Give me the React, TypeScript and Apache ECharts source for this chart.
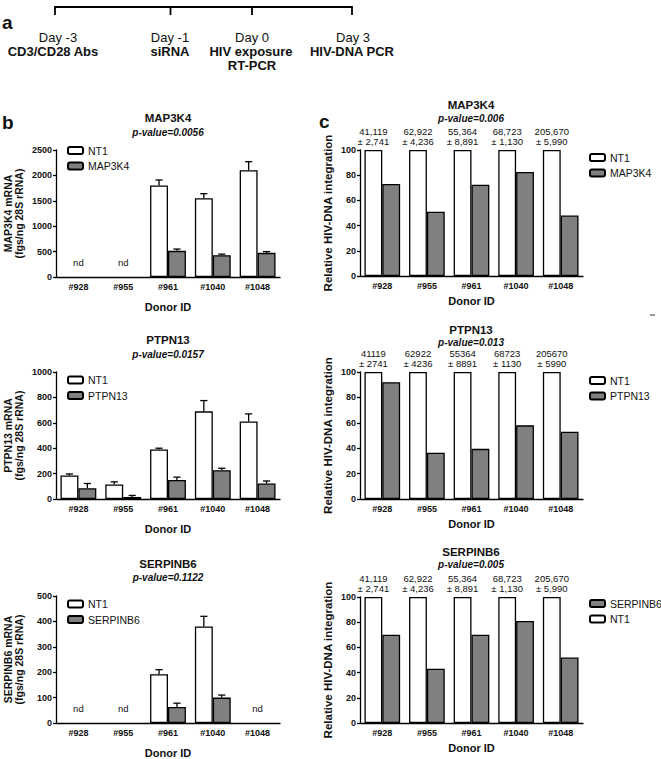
import React, { useEffect, useRef } from "react";
import * as echarts from "echarts";

const donors = ["#928", "#955", "#961", "#1040", "#1048"];

// Panel b: mRNA levels (fgs/ng 28S rRNA); null = not detected (nd)
const mapNT1 = [null, null, 1800, 1550, 2100];
const mapNT1Err = [null, null, 1910, 1640, 2270];
const mapKD = [null, null, 515, 430, 475];
const mapKDErr = [null, null, 550, 450, 500];

const ptpNT1 = [185, 115, 390, 690, 610];
const ptpNT1Err = [197, 135, 400, 775, 670];
const ptpKD = [85, 16, 150, 226, 122];
const ptpKDErr = [122, 28, 172, 242, 142];

const serNT1 = [null, null, 192, 380, null];
const serNT1Err = [null, null, 210, 420, null];
const serKD = [null, null, 63, 100, null];
const serKDErr = [null, null, 78, 110, null];

// Panel c: relative HIV-DNA integration (%)
const relNT1 = [100, 100, 100, 100, 100];
const relMap = [73, 51, 72.5, 82.5, 48];
const relPtp = [92, 36.5, 39.5, 58, 53];
const relSer = [70, 43, 70, 81, 52];

const copiesComma = ["41,119", "62,922", "55,364", "68,723", "205,670"];
const sdComma = ["2,741", "4,236", "8,891", "1,130", "5,990"];
const copiesPlain = ["41119", "62922", "55364", "68723", "205670"];
const sdPlain = ["2741", "4236", "8891", "1130", "5990"];

const FONT = "'Liberation Sans', Arial, Helvetica, sans-serif";
const GREY = "#808080";
const INK = "#111";

function buildOption() {
  const grids: any[] = [];
  const xAxes: any[] = [];
  const yAxes: any[] = [];
  const series: any[] = [];
  const legends: any[] = [];
  const graphics: any[] = [];

  const addAxes = (gi: number, grid: any, yMax: number, yInt: number, yName: string, nameGap: number, xNameGap: number, nameSize: number) => {
    grids.push(grid);
    xAxes.push({
      type: "category",
      gridIndex: gi,
      data: donors,
      name: "Donor ID",
      nameLocation: "middle",
      nameGap: xNameGap,
      nameTextStyle: { fontFamily: FONT, fontSize: 11, fontWeight: "bold", color: INK },
      axisLine: { lineStyle: { color: "#000", width: 1.3 } },
      axisTick: { show: false },
      axisLabel: { fontFamily: FONT, fontSize: 9, fontWeight: "bold", color: INK, margin: 5 },
      splitLine: { show: false },
    });
    yAxes.push({
      type: "value",
      gridIndex: gi,
      min: 0,
      max: yMax,
      interval: yInt,
      name: yName,
      nameLocation: "middle",
      nameGap: nameGap,
      nameTextStyle: { fontFamily: FONT, fontSize: nameSize, fontWeight: "bold", color: INK, lineHeight: 11.5 },
      axisLine: { show: true, lineStyle: { color: "#000", width: 1.3 } },
      axisTick: { show: true, length: 3, lineStyle: { color: "#000", width: 1.3 } },
      axisLabel: {
        fontFamily: FONT,
        fontSize: 9,
        fontWeight: "bold",
        color: INK,
        margin: 4,
        formatter: (v: number) => String(v),
      },
      splitLine: { show: false },
    });
  };

  const barBase = (gi: number) => ({
    type: "bar",
    xAxisIndex: gi,
    yAxisIndex: gi,
    barGap: "0%",
    barCategoryGap: "20%",
  });

  const errSeries = (gi: number, vals: any[], errs: any[], side: number) => ({
    type: "custom",
    name: "err" + gi + side,
    xAxisIndex: gi,
    yAxisIndex: gi,
    z: 5,
    encode: { x: 0, y: [1, 2] },
    data: vals
      .map((v, i) => (v == null ? null : [i, v, errs[i], side]))
      .filter((d) => d !== null),
    renderItem: (params: any, api: any) => {
      const cat = api.value(0);
      const v = api.value(1);
      const e = api.value(2);
      const s = api.value(3);
      const base = api.coord([cat, v]);
      const top = api.coord([cat, e]);
      const w = api.size([1, 0])[0];
      const x = base[0] + s * w * 0.2;
      const cap = w * 0.08;
      const st = { stroke: "#000", lineWidth: 1.3 };
      return {
        type: "group",
        children: [
          { type: "line", shape: { x1: x, y1: base[1], x2: x, y2: top[1] }, style: st },
          { type: "line", shape: { x1: x - cap, y1: top[1], x2: x + cap, y2: top[1] }, style: st },
        ],
      };
    },
  });

  const ndSeries = (gi: number, vals: any[]) => ({
    type: "custom",
    name: "nd" + gi,
    xAxisIndex: gi,
    yAxisIndex: gi,
    data: vals.map((v, i) => (v == null ? [i, 0] : null)).filter((d) => d !== null),
    renderItem: (params: any, api: any) => {
      const p = api.coord([api.value(0), 0]);
      return {
        type: "text",
        x: p[0],
        y: p[1] - 15,
        style: { text: "nd", fill: INK, fontFamily: FONT, fontSize: 9.5, align: "center", verticalAlign: "middle" },
      };
    },
  });

  const titleText = (cx: number, y1: number, y2: number, title: string, pv: string) => {
    graphics.push({
      type: "text",
      x: cx,
      y: y1,
      style: { text: title, fill: INK, fontFamily: FONT, fontSize: 11.5, fontWeight: "bold", align: "center", verticalAlign: "middle" },
    });
    graphics.push({
      type: "text",
      x: cx,
      y: y2,
      style: { text: pv, fill: INK, fontFamily: FONT, fontSize: 10, fontWeight: "bold", fontStyle: "italic", align: "center", verticalAlign: "middle" },
    });
  };

  const legend = (left: number, firstCenter: number, names: string[]) => {
    legends.push({
      orient: "vertical",
      left: left,
      top: firstCenter - 6,
      padding: 0,
      itemWidth: 15,
      itemHeight: 7,
      itemGap: 3.5,
      icon: "roundRect",
      selectedMode: false,
      data: names,
      textStyle: { fontFamily: FONT, fontSize: 10.5, color: INK, lineHeight: 12, padding: [0, 0, 0, 0] },
    });
  };

  // ---- Panel b ----
  const bPanels = [
    { top: 150, max: 2500, int: 500, gene: "MAP3K4", nt: mapNT1, ntE: mapNT1Err, kd: mapKD, kdE: mapKDErr, t: 118, p: 132, pv: "p-value=0.0056", leg: 150.5 },
    { top: 372, max: 1000, int: 200, gene: "PTPN13", nt: ptpNT1, ntE: ptpNT1Err, kd: ptpKD, kdE: ptpKDErr, t: 340, p: 354, pv: "p-value=0.0157", leg: 380 },
    { top: 596, max: 500, int: 100, gene: "SERPINB6", nt: serNT1, ntE: serNT1Err, kd: serKD, kdE: serKDErr, t: 564, p: 577, pv: "p-value=0.1122", leg: 604 },
  ];
  bPanels.forEach((bp) => {
    const gi = grids.length;
    addAxes(gi, { left: 56, width: 224, top: bp.top, height: 127 }, bp.max, bp.int, bp.gene + " mRNA\n(fgs/ng 28S rRNA)", 31, 24, 10.5);
    series.push({
      ...barBase(gi),
      name: "NT1",
      data: bp.nt,
      itemStyle: { color: "#fff", borderColor: "#000", borderWidth: 1.3 },
    });
    series.push({
      ...barBase(gi),
      name: bp.gene,
      data: bp.kd,
      itemStyle: { color: GREY, borderColor: "#000", borderWidth: 1.3 },
    });
    series.push(errSeries(gi, bp.nt, bp.ntE, -1));
    series.push(errSeries(gi, bp.kd, bp.kdE, 1));
    series.push(ndSeries(gi, bp.nt));
    titleText(168, bp.t, bp.p, bp.gene, bp.pv);
    legend(67, bp.leg, ["NT1", bp.gene]);
  });

  // ---- Panel c ----
  const cPanels = [
    { top: 150, h: 126, gene: "MAP3K4", kd: relMap, t: 105, p: 118, pv: "p-value=0.006", leg: 157.5, a: copiesComma, b: sdComma, order: ["NT1", "MAP3K4"] },
    { top: 372, h: 127, gene: "PTPN13", kd: relPtp, t: 330, p: 342, pv: "p-value=0.013", leg: 380.5, a: copiesPlain, b: sdPlain, order: ["NT1", "PTPN13"] },
    { top: 597, h: 126, gene: "SERPINB6", kd: relSer, t: 552, p: 564, pv: "p-value=0.005", leg: 603.5, a: copiesComma, b: sdComma, order: ["SERPINB6", "NT1"] },
  ];
  cPanels.forEach((cp) => {
    const gi = grids.length;
    addAxes(gi, { left: 360, width: 223, top: cp.top, height: cp.h }, 100, 20, "Relative HIV-DNA integration", 26, 19, 11.5);
    series.push({
      ...barBase(gi),
      name: "NT1",
      data: relNT1,
      itemStyle: { color: "#fff", borderColor: "#000", borderWidth: 1.3 },
      label: {
        show: true,
        position: "top",
        distance: 3,
        fontFamily: FONT,
        fontSize: 9.5,
        lineHeight: 10.5,
        color: INK,
        formatter: (p: any) => cp.a[p.dataIndex] + "\n\u00b1 " + cp.b[p.dataIndex],
      },
    });
    series.push({
      ...barBase(gi),
      name: cp.gene,
      data: cp.kd,
      itemStyle: { color: GREY, borderColor: "#000", borderWidth: 1.3 },
    });
    titleText(471, cp.t, cp.p, cp.gene, cp.pv);
    legend(589, cp.leg, cp.order);
  });

  // ---- Panel a: timeline ----
  const lineSt = { stroke: "#000", lineWidth: 1.8 };
  graphics.push({ type: "polyline", shape: { points: [[55, 15], [55, 7], [352, 7], [352, 15]] }, style: { ...lineSt, fill: null } });
  graphics.push({ type: "line", shape: { x1: 170.5, y1: 7, x2: 170.5, y2: 15 }, style: lineSt });
  graphics.push({ type: "line", shape: { x1: 252, y1: 7, x2: 252, y2: 15 }, style: lineSt });
  const tl = (x: number, y: number, t: string, bold: boolean) =>
    graphics.push({
      type: "text",
      x,
      y,
      style: { text: t, fill: INK, fontFamily: FONT, fontSize: 13, fontWeight: bold ? "bold" : "normal", align: "center", verticalAlign: "middle" },
    });
  tl(58, 37, "Day -3", false);
  tl(53, 51, "CD3/CD28 Abs", true);
  tl(170, 37, "Day -1", false);
  tl(170, 51, "siRNA", true);
  tl(252, 37, "Day 0", false);
  tl(251, 51, "HIV exposure", true);
  tl(252, 65, "RT-PCR", true);
  tl(353, 37, "Day 3", false);
  tl(352, 51, "HIV-DNA PCR", true);

  // panel letters
  const letter = (x: number, y: number, t: string) =>
    graphics.push({
      type: "text",
      x,
      y,
      style: { text: t, fill: INK, fontFamily: FONT, fontSize: 19, fontWeight: "bold", align: "left", verticalAlign: "alphabetic" },
    });
  letter(2, 13, "a");
  letter(2, 113, "b");
  letter(319, 112, "c");

  // small stray mark in the figure
  graphics.push({ type: "line", shape: { x1: 650, y1: 315, x2: 655, y2: 315 }, style: { stroke: "#777", lineWidth: 1.5 } });

  return {
    animation: false,
    backgroundColor: "#fff",
    textStyle: { fontFamily: FONT },
    grid: grids,
    xAxis: xAxes,
    yAxis: yAxes,
    legend: legends,
    series,
    graphic: graphics,
  };
}

export default function App() {
  const ref = useRef<HTMLDivElement>(null);
  useEffect(() => {
    if (!ref.current) return;
    const chart = echarts.init(ref.current, undefined, { renderer: "svg" });
    chart.setOption(buildOption() as any);
    return () => chart.dispose();
  }, []);
  return (
    <div
      ref={ref}
      style={{ position: "absolute", left: 0, top: 0, width: 661, height: 759, background: "#fff" }}
    />
  );
}
